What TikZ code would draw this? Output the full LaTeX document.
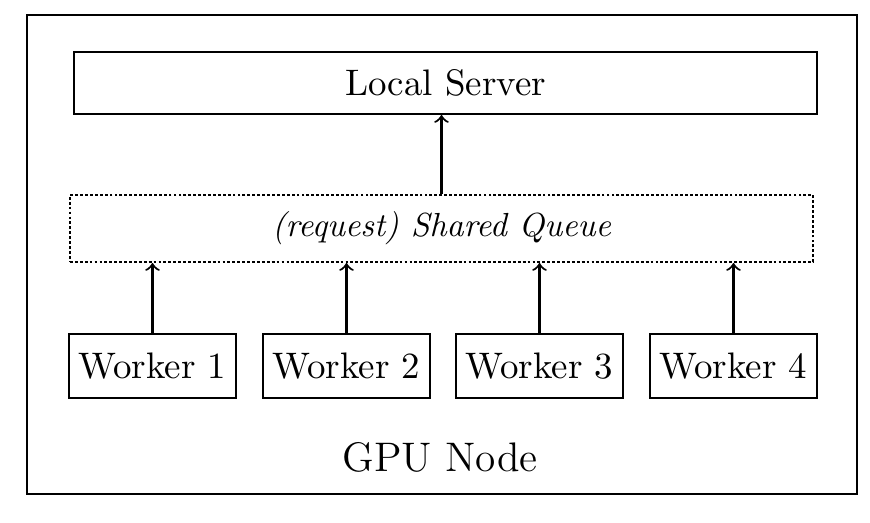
\documentclass[tikz,border=0pt]{standalone}
\usepackage{amsmath}
\usepackage{tikz}
\usetikzlibrary{arrows}
\usetikzlibrary{positioning}

\begin{document}
\begin{tikzpicture}[scale=1,
    box/.style={draw, semithick, inner sep=0pt, font=\fontsize{10.5}{12}\selectfont},
    workerbox/.style={box, minimum width=1.67cm, minimum height=0.64cm},
    queuebox/.style={draw, semithick, dash pattern=on 0.8pt off 0.6pt, inner sep=0pt, minimum width=7.43cm, minimum height=0.67cm, font=\fontsize{9.5}{11}\selectfont\itshape}]
    \useasboundingbox (0,0) rectangle (8.7,5.22);
    % Draw the outer node
    \node[box, minimum width=8.30cm, minimum height=4.79cm] (gpu) at (4.42,2.675) {};
    \node[font=\fontsize{11.75}{14}\selectfont] (gpulabel) at (4.40,0.65) {GPU Node};

    % Draw the server and the queue
    \node[box, minimum width=7.43cm, minimum height=0.62cm] (server) at (4.455,4.39) {Local Server};
    \node[queuebox] (queue) at (4.415,2.935) {(request) Shared Queue};
    \draw[->, semithick] (queue.north) -- (queue.north |- server.south);

    % Draw the workers
    \node[workerbox] (w1) at (1.525,1.56) {Worker 1};
    \node[workerbox] (w2) at (3.465,1.56) {Worker 2};
    \node[workerbox] (w3) at (5.395,1.56) {Worker 3};
    \node[workerbox] (w4) at (7.335,1.56) {Worker 4};
    \draw[->, semithick] (w1.north) -- (w1.north |- queue.south);
    \draw[->, semithick] (w2.north) -- (w2.north |- queue.south);
    \draw[->, semithick] (w3.north) -- (w3.north |- queue.south);
    \draw[->, semithick] (w4.north) -- (w4.north |- queue.south);
\end{tikzpicture}
\end{document}
